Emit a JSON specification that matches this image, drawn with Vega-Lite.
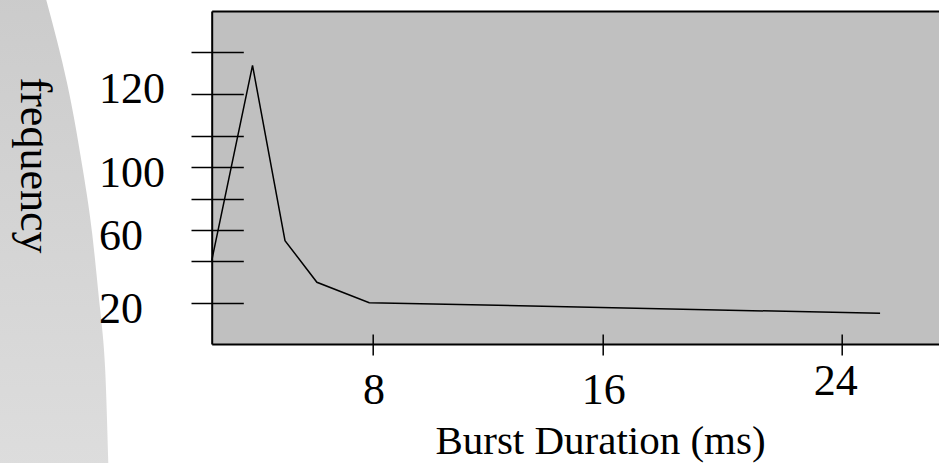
{
  "$schema": "https://vega.github.io/schema/vega-lite/v6.json",
  "autosize": {"type": "none"},
  "padding": {"left": 211.7, "top": 11, "right": 0, "bottom": 119},
  "width": 727.3,
  "height": 333,
  "background": "white",
  "view": {"fill": "#c0c0c0", "stroke": null},
  "config": {"font": "Liberation Serif"},
  "datasets": {
    "bursts": [
      {"duration": 2.41, "frequency": 43},
      {"duration": 3.83, "frequency": 150},
      {"duration": 4.96, "frequency": 54},
      {"duration": 6.07, "frequency": 31.2},
      {"duration": 7.89, "frequency": 20},
      {"duration": 25.66, "frequency": 14.2}
    ],
    "backdrop": [
      {"level": 192, "edge": -3.45},
      {"level": 140.3, "edge": -2.62},
      {"level": 92.7, "edge": -2.07},
      {"level": 58.2, "edge": -1.75},
      {"level": 17.6, "edge": -1.48},
      {"level": -15.2, "edge": -1.3},
      {"level": -72, "edge": -1.18}
    ]
  },
  "resolve": {"axis": {"x": "independent", "y": "independent"}},
  "layer": [
    {
      "data": {"name": "backdrop"},
      "mark": {
        "type": "area",
        "orient": "horizontal",
        "interpolate": "natural",
        "color": {
          "gradient": "linear", "x1": 0, "y1": 0, "x2": 0, "y2": 1,
          "stops": [{"offset": 0, "color": "#cbcbcb"}, {"offset": 1, "color": "#dddddd"}]
        }
      },
      "encoding": {
        "y": {"field": "level", "type": "quantitative", "scale": {"domain": [-2.63, 179.84], "nice": false, "zero": false}, "axis": null},
        "x": {"field": "edge", "type": "quantitative", "scale": {"domain": [2.41, 27.71], "nice": false, "zero": false}, "axis": null},
        "x2": {"datum": -6}
      }
    },
    {
      "data": {"name": "bursts"},
      "mark": {"type": "line", "color": "black", "strokeWidth": 1.5},
      "encoding": {
        "x": {
          "field": "duration", "type": "quantitative",
          "scale": {"domain": [2.41, 27.71], "nice": false, "zero": false},
          "axis": {
            "orient": "bottom",
            "zindex": 1,
            "values": [8, 16, 24.33],
            "labelExpr": "datum.value < 12 ? '8' : datum.value < 20 ? '16' : '24'",
            "grid": false,
            "domain": true, "domainColor": "black", "domainWidth": 2,
            "ticks": true, "tickSize": 11, "tickWidth": 1.5, "tickColor": "black",
            "labelFont": "Liberation Serif", "labelFontSize": 44, "labelColor": "black",
            "labelPadding": {"condition": {"test": "datum.value > 20", "value": 4}, "value": 13},
            "labelOffset": {"condition": {"test": "datum.value > 20", "value": -6.5}, "value": 1},
            "labelFlush": false, "labelOverlap": false, "labelBound": false,
            "title": "Burst Duration (ms)",
            "titleFont": "Liberation Serif", "titleFontSize": 41, "titleFontWeight": "normal", "titleColor": "black",
            "titleX": 388.3, "titleY": 109.5, "titleAlign": "center", "titleBaseline": "alphabetic"
          }
        },
        "y": {
          "field": "frequency", "type": "quantitative",
          "scale": {"domain": [-2.63, 179.84], "nice": false, "zero": false},
          "axis": {
            "orient": "left",
            "zindex": 1,
            "values": [20, 42.8, 60, 77, 94.4, 111.5, 134.2, 157.2],
            "labelExpr": "abs(datum.value - 20) < 0.5 ? '20' : abs(datum.value - 60) < 0.5 ? '60' : abs(datum.value - 94.4) < 0.5 ? '100' : abs(datum.value - 134.2) < 0.5 ? '120' : ''",
            "grid": false,
            "domain": true, "domainColor": "black", "domainWidth": 2,
            "ticks": true, "tickSize": 20.7, "tickWidth": 1.5, "tickColor": "black",
            "labelFont": "Liberation Serif", "labelFontSize": 44, "labelColor": "black",
            "labelAlign": "left", "labelBaseline": "middle", "labelPadding": 92.5,
            "labelOffset": {"condition": {"test": "datum.value > 130", "value": -4.6}, "value": 6.3},
            "labelFlush": false, "labelOverlap": false, "labelBound": false,
            "title": "frequency",
            "titleFont": "Liberation Serif", "titleFontSize": 44, "titleFontWeight": "normal", "titleColor": "black",
            "titleAngle": 90, "titleX": -178.7, "titleY": 154, "titleAlign": "center", "titleBaseline": "middle"
          }
        }
      }
    },
    {
      "data": {"name": "bursts"},
      "mark": {"type": "line", "opacity": 0},
      "encoding": {
        "x": {
          "field": "duration", "type": "quantitative",
          "scale": {"domain": [2.41, 27.71], "nice": false, "zero": false},
          "axis": {
            "orient": "bottom", "values": [8, 16, 24.33],
            "domain": false, "labels": false, "grid": false,
            "ticks": true, "tickSize": -10, "tickWidth": 1.5, "tickColor": "black",
            "title": null
          }
        },
        "y": {
          "field": "frequency", "type": "quantitative",
          "scale": {"domain": [-2.63, 179.84], "nice": false, "zero": false},
          "axis": {
            "orient": "left", "values": [20, 42.8, 60, 77, 94.4, 111.5, 134.2, 157.2],
            "domain": false, "labels": false, "grid": false,
            "ticks": true, "tickSize": -31.6, "tickWidth": 1.5, "tickColor": "black",
            "title": null
          }
        }
      }
    },
    {
      "data": {"name": "bursts"},
      "mark": {"type": "line", "opacity": 0},
      "encoding": {
        "x": {
          "field": "duration", "type": "quantitative",
          "scale": {"domain": [2.41, 27.71], "nice": false, "zero": false},
          "axis": {
            "orient": "top",
            "domain": true, "domainColor": "black", "domainWidth": 2,
            "ticks": false, "labels": false, "grid": false, "title": null
          }
        },
        "y": {
          "field": "frequency", "type": "quantitative",
          "scale": {"domain": [-2.63, 179.84], "nice": false, "zero": false},
          "axis": null
        }
      }
    }
  ]
}
